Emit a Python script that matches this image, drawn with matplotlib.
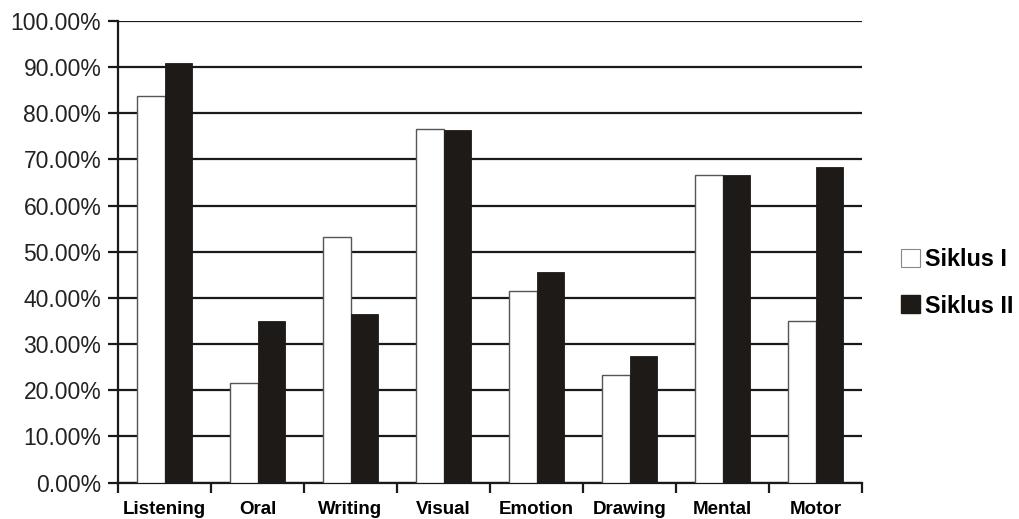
import matplotlib
matplotlib.use("Agg")
import matplotlib.pyplot as plt
from matplotlib.patches import Patch
from matplotlib.ticker import FuncFormatter, FixedLocator
import numpy as np

plt.rcParams['font.family'] = ['Liberation Sans', 'DejaVu Sans']

categories = ["Listening", "Oral", "Writing", "Visual", "Emotion", "Drawing", "Mental", "Motor"]
siklus_1 = [83.8, 21.6, 53.3, 76.5, 41.4, 23.2, 66.7, 35.1]
siklus_2 = [91.0, 35.1, 36.6, 76.4, 45.6, 27.4, 66.7, 68.4]
series_names = ["Siklus I", "Siklus II"]
y_ticks = [0, 10, 20, 30, 40, 50, 60, 70, 80, 90, 100]

fig = plt.figure(figsize=(10.19, 5.19), dpi=100)
ax = fig.add_axes([0.1158, 0.0703, 0.7302, 0.8892])

x = np.arange(len(categories))
w = 0.296
ax.bar(x - w / 2, siklus_1, width=w, color="white", edgecolor="#555555",
       linewidth=1.0, zorder=3)
ax.bar(x + w / 2, siklus_2, width=w, color="#1e1a18", edgecolor="#1e1a18",
       linewidth=0.6, zorder=3)

ax.set_xlim(-0.5, len(categories) - 0.5)
ax.set_ylim(0, 100)

ax.yaxis.set_major_locator(FixedLocator(y_ticks))
ax.yaxis.set_major_formatter(FuncFormatter(lambda v, p: f"{v:.2f}%"))
ax.yaxis.grid(True, color="#1a1a1a", linewidth=1.6, zorder=1)
ax.set_axisbelow(True)

ax.set_xticks(x)
ax.set_xticklabels(categories, fontweight="bold", fontsize=13.5)
ax.set_xticks(np.arange(len(categories) + 1) - 0.5, minor=True)
ax.tick_params(axis="x", which="major", length=0, pad=13)
ax.tick_params(axis="x", which="minor", length=7, width=1.6, color="#1a1a1a", direction="out")
ax.tick_params(axis="y", length=7, width=1.6, color="#1a1a1a", labelsize=16.5, pad=5,
               labelcolor="#222222")

for side in ("top", "right"):
    ax.spines[side].set_visible(False)
for side in ("left", "bottom"):
    ax.spines[side].set_color("#1a1a1a")
    ax.spines[side].set_linewidth(1.6)

handles = [Patch(facecolor="white", edgecolor="#888888", linewidth=0.8),
           Patch(facecolor="#1e1a18", edgecolor="#1e1a18")]
leg = fig.legend(handles, series_names, loc="center left",
                 bbox_to_anchor=(0.864, 0.455), frameon=False,
                 prop={"weight": "bold", "size": 16.8},
                 handlelength=0.8, handleheight=0.8, handletextpad=0.2,
                 labelspacing=1.0)

fig.savefig("out.png", dpi=100)
